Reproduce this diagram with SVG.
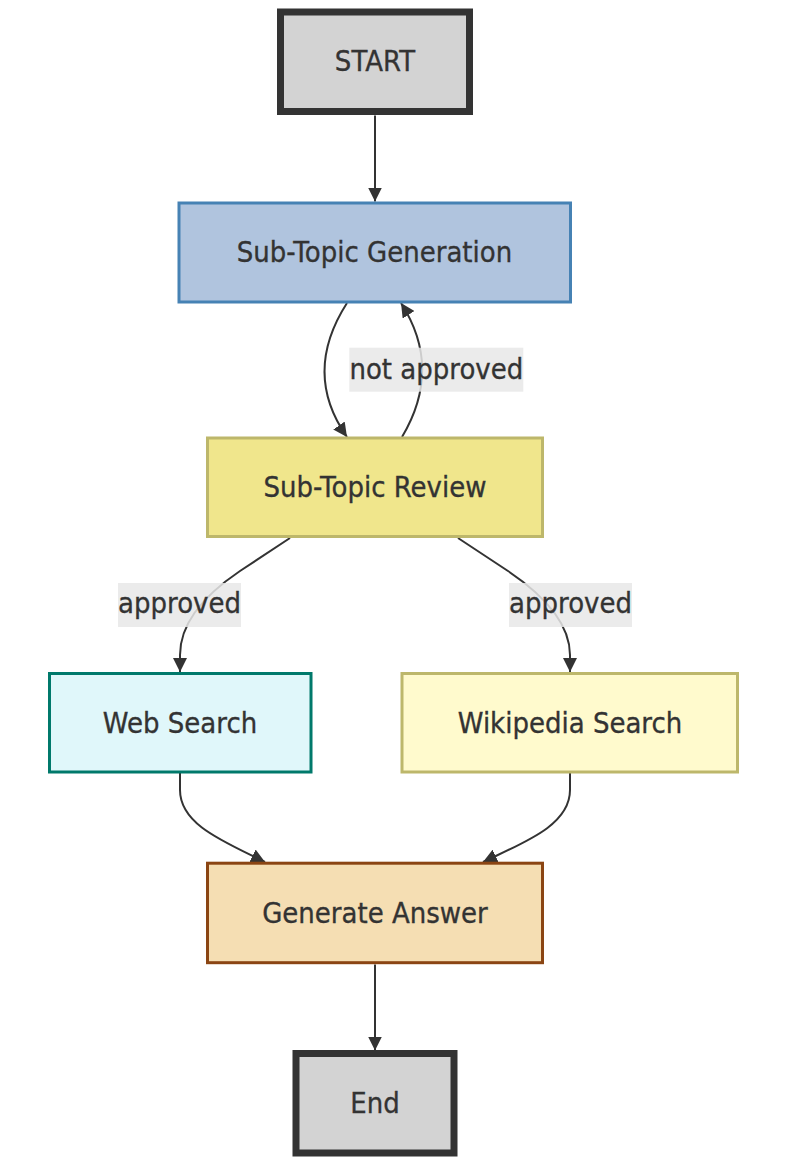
<svg xmlns="http://www.w3.org/2000/svg" width="791" height="1168" viewBox="0 0 791 1168">
<style>
.lbl{font-family:"DejaVu Sans","Liberation Sans",sans-serif;font-size:28px;fill:#333;text-anchor:middle;stroke:#333;stroke-width:0.35}
.edge{fill:none;stroke:#333;stroke-width:2}
.ebg{fill:#e8e8e8;fill-opacity:0.85}
</style>
<defs>
<marker id="arr" viewBox="0 0 10 10" refX="10" refY="5" markerUnits="userSpaceOnUse" markerWidth="14" markerHeight="14" orient="auto">
<path d="M0,0 L10,5 L0,10 z" fill="#333"/>
</marker>
</defs>
<rect width="791" height="1168" fill="#fff"/>
<g id="connectors">
<path class="edge" d="M375,115.5 L375,201.5" marker-end="url(#arr)"/>
<path class="edge" d="M347,303 C320,345 314,390 347,437" marker-end="url(#arr)"/>
<path class="edge" d="M402,437 C430,390 428,345 401,303" marker-end="url(#arr)"/>
<path class="edge" d="M290,538 L240,571 C200,598 180,625 180,655 L180,672" marker-end="url(#arr)"/>
<path class="edge" d="M458,538 L508,571 C548,598 570,625 570,655 L570,672" marker-end="url(#arr)"/>
<path class="edge" d="M180,773 L180,790 C180,825 225,842 265,862" marker-end="url(#arr)"/>
<path class="edge" d="M570,773 L570,790 C570,825 525,842 483,862" marker-end="url(#arr)"/>
<path class="edge" d="M375,964.5 L375,1050.5" marker-end="url(#arr)"/>
</g>
<g id="edge-labels">
<g id="lbl-not-approved"><rect class="ebg" x="349.3" y="347.7" width="174" height="44"/><text class="lbl" transform="translate(436.3,378.7) scale(0.93,1)">not approved</text></g>
<g id="lbl-approved-1"><rect class="ebg" x="118" y="583" width="123" height="44"/><text class="lbl" transform="translate(179.5,613) scale(0.93,1)">approved</text></g>
<g id="lbl-approved-2"><rect class="ebg" x="509" y="583" width="123" height="44"/><text class="lbl" transform="translate(570.5,613) scale(0.93,1)">approved</text></g>
</g>
<g id="start"><rect x="280.5" y="12" width="189" height="99.5" fill="#d3d3d3" stroke="#333" stroke-width="7"/><text class="lbl" transform="translate(375,71.3) scale(0.93,1)">START</text></g>
<g id="subtopic-generation"><rect x="179" y="203" width="391.5" height="99" fill="#b0c4de" stroke="#4682b4" stroke-width="3"/><text class="lbl" transform="translate(374.5,262) scale(0.93,1)">Sub-Topic Generation</text></g>
<g id="subtopic-review"><rect x="207.5" y="438" width="335" height="98.5" fill="#f0e68c" stroke="#bdb76b" stroke-width="3"/><text class="lbl" transform="translate(375,497) scale(0.93,1)">Sub-Topic Review</text></g>
<g id="web-search"><rect x="49.5" y="673.5" width="261.5" height="98.5" fill="#e0f7fa" stroke="#00796b" stroke-width="3"/><text class="lbl" transform="translate(180,732.5) scale(0.93,1)">Web Search</text></g>
<g id="wikipedia-search"><rect x="402" y="673.5" width="335.5" height="98.5" fill="#fffacd" stroke="#bdb76b" stroke-width="3"/><text class="lbl" transform="translate(570,732.5) scale(0.93,1)">Wikipedia Search</text></g>
<g id="generate-answer"><rect x="207.5" y="863.2" width="335" height="99.5" fill="#f5deb3" stroke="#8b4513" stroke-width="3"/><text class="lbl" transform="translate(375,923) scale(0.93,1)">Generate Answer</text></g>
<g id="end"><rect x="296" y="1053.5" width="158" height="99.5" fill="#d3d3d3" stroke="#333" stroke-width="7"/><text class="lbl" transform="translate(375,1113.2) scale(0.93,1)">End</text></g>
</svg>
